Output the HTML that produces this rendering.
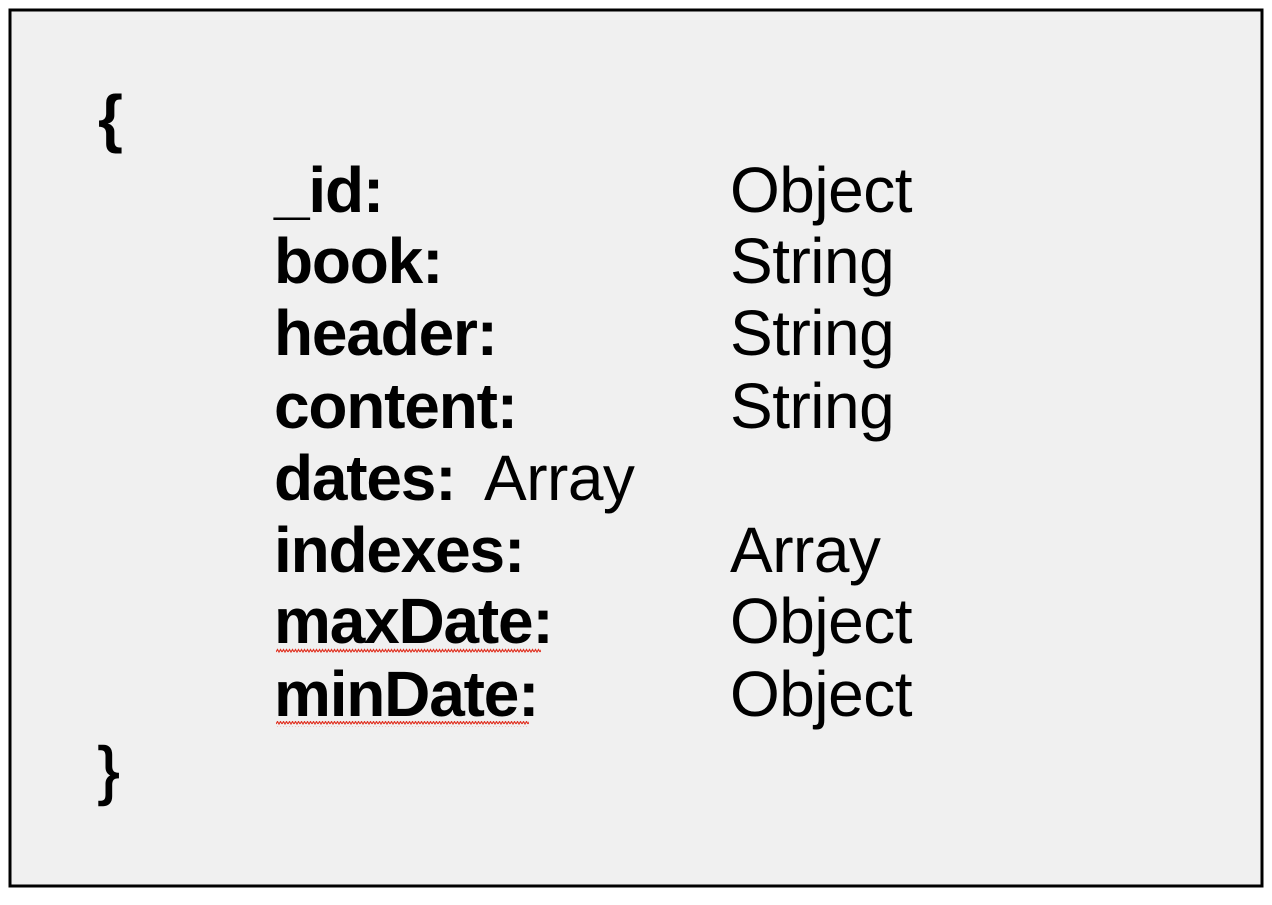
<!DOCTYPE html>
<html><head><style>body{margin:0;background:#fff}</style></head><body>
<svg width="1272" height="900" xmlns="http://www.w3.org/2000/svg">
<rect x="10" y="10" width="1252" height="876" fill="#f0f0f0" stroke="#000" stroke-width="3"/>
<defs><pattern id="w" x="276" y="0" width="6" height="6" patternUnits="userSpaceOnUse"><path d="M0 4 L1.5 1.5 L3 4 L4.5 1.5 L6 4" fill="none" stroke="#e03020" stroke-width="1.2"/></pattern></defs>
<g font-family="Liberation Sans, Arial, sans-serif" font-size="64" fill="#000">
<text x="98" y="140" font-weight="bold">{</text>
<text x="98" y="792" stroke="#000" stroke-width="1.5">}</text>
<g font-weight="bold" letter-spacing="-1.2">
<text x="274" y="212">_id:</text>
<text x="274" y="283">book:</text>
<text x="274" y="355">header:</text>
<text x="274" y="428">content:</text>
<text x="274" y="500">dates:</text>
<text x="274" y="572">indexes:</text>
<text x="274" y="643">maxDate:</text>
<text x="274" y="716">minDate:</text>
</g>
<g letter-spacing="-0.5">
<text x="484" y="500">Array</text>
<text x="730" y="212">Object</text>
<text x="730" y="283">String</text>
<text x="730" y="355">String</text>
<text x="730" y="428">String</text>
<text x="730" y="572">Array</text>
<text x="730" y="643">Object</text>
<text x="730" y="716">Object</text>
</g>
</g>
<rect x="276" y="648" width="265" height="6" fill="url(#w)"/>
<rect x="276" y="721" width="253" height="6" fill="url(#w)"/>
</svg>
</body></html>
